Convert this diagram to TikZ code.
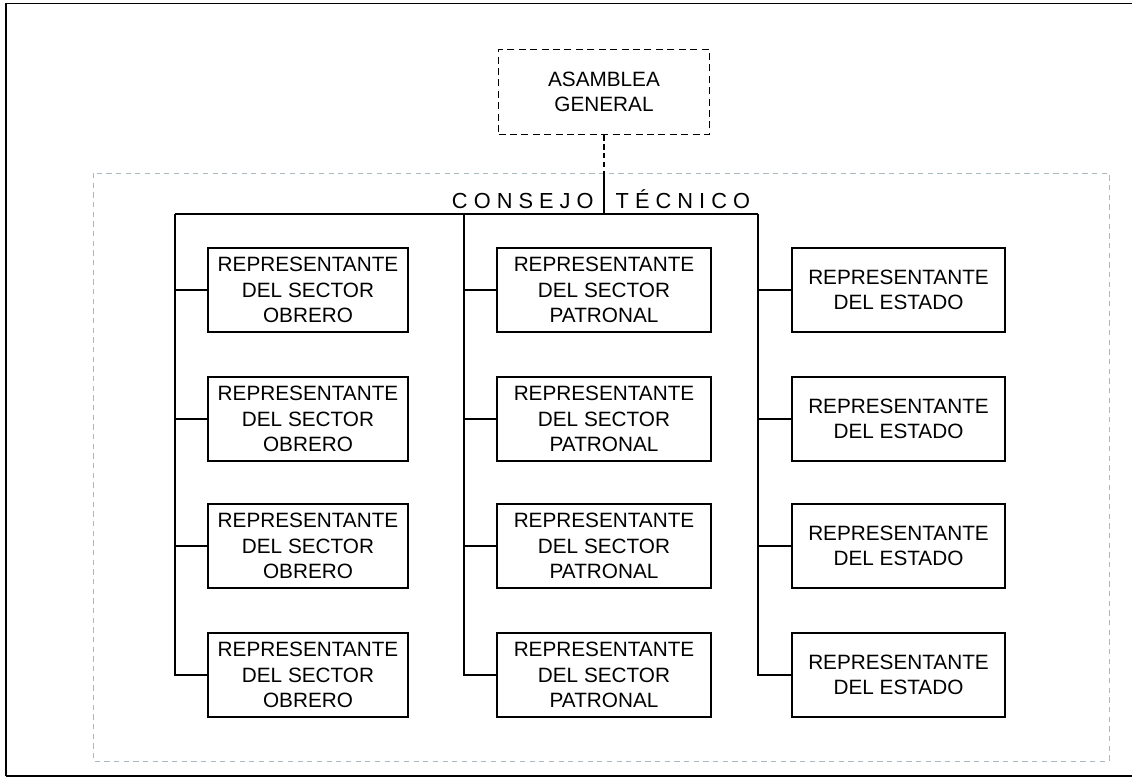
\documentclass[tikz,border=0pt]{standalone}
\usepackage{fontspec}
\setmainfont{Liberation Sans}
\definecolor{framegray}{RGB}{168,186,190}
\tikzset{
  rep/.style={draw,line width=0.8pt,minimum height=1.68cm,align=center,
    inner sep=2pt,font=\fontsize{11.8}{14.4}\selectfont},
  link/.style={line width=0.8pt},
}
\begin{document}
\begin{tikzpicture}
  \useasboundingbox (0,0) rectangle (22.64,-15.56);
  % marco exterior
  \draw[line width=1pt] (0.12,-15.52) -- (0.12,-0.07) -- (22.64,-0.07);
  \draw[line width=1pt] (0.12,-15.52) -- (22.64,-15.52);
  \draw[framegray,line width=0.5pt,dash pattern=on 3pt off 2.5pt]
    (1.86,-3.46) rectangle (22.18,-15.22);

  \node[rep,line width=1.1pt,dash pattern=on 4pt off 2.5pt,minimum width=4.22cm,
    minimum height=1.7cm] (asamblea) at (12.08,-1.84) {ASAMBLEA\\GENERAL};
  \node[anchor=base,font=\fontsize{12.4}{14}\selectfont] (consejo) at (12.02,-4.16)
    {C O N S E J O\hspace{0.44cm}T É C N I C O};

  \coordinate (entrada) at (12.08,-3.46);
  \coordinate (bus1) at (3.5,-4.28);
  \coordinate (bus2) at (9.28,-4.28);
  \coordinate (bus3) at (15.16,-4.28);

  % representantes
  \foreach[count=\i] \y in {-5.8,-8.38,-10.92,-13.5} {
    \node[rep,minimum width=4cm] (obrero-\i) at (6.16,\y)
      {REPRESENTANTE\\DEL SECTOR\\OBRERO};
    \node[rep,minimum width=4.28cm] (patronal-\i) at (12.08,\y)
      {REPRESENTANTE\\DEL SECTOR\\PATRONAL};
    \node[rep,minimum width=4.26cm] (estado-\i) at (17.97,\y)
      {REPRESENTANTE\\DEL ESTADO};
    \draw[link] (obrero-\i.west) -- (obrero-\i.west -| bus1);
    \draw[link] (patronal-\i.west) -- (patronal-\i.west -| bus2);
    \draw[link] (estado-\i.west) -- (estado-\i.west -| bus3);
  }

  % conectores
  \draw[link,dash pattern=on 3pt off 2pt] (asamblea.south) -- (entrada);
  \draw[link] (entrada) -- (entrada |- bus1);
  \draw[link] (bus1) -- (bus3);
  \draw[link] (bus1) |- (obrero-4.west);
  \draw[link] (bus2) |- (patronal-4.west);
  \draw[link] (bus3) |- (estado-4.west);
\end{tikzpicture}
\end{document}
